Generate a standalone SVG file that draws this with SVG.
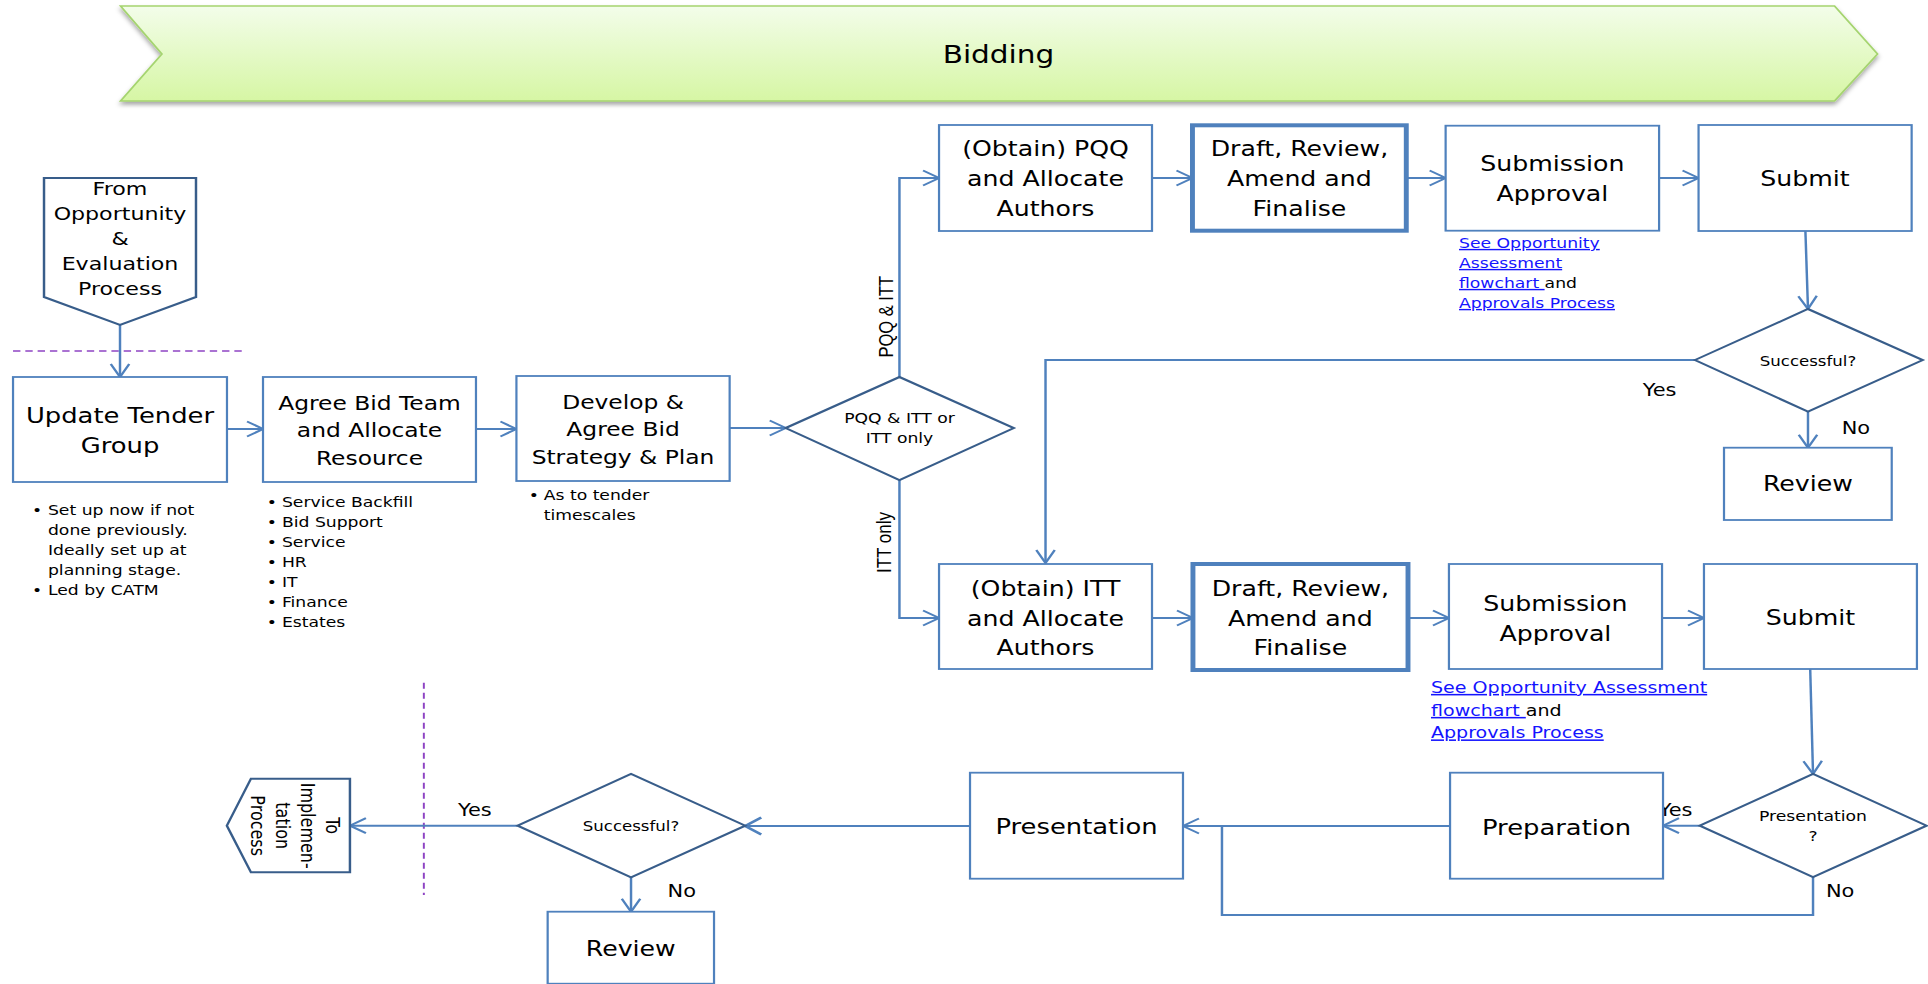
<svg xmlns="http://www.w3.org/2000/svg" width="1928" height="984" viewBox="0 0 1928 984">
<defs>
<style>
.box{fill:#fff;stroke:#4f81bd;stroke-width:1.8}
.thick{fill:#fff;stroke:#4f81bd;stroke-width:4}
.dia{fill:#fff;stroke:#385d8a;stroke-width:2}
.conn{fill:none;stroke:#4f81bd;stroke-width:2}
.t{font-family:"DejaVu Sans",Verdana,sans-serif;fill:#000}
.r{font-family:"Liberation Sans",Arial,sans-serif;fill:#000}
.c{text-anchor:middle}
.link{fill:#1414ff;text-decoration:underline}
.dash{stroke:#8e44c4;stroke-width:1.6;stroke-dasharray:6 4;fill:none}
</style>
<linearGradient id="gb" x1="0" y1="0" x2="0" y2="1">
<stop offset="0" stop-color="#f3fdea"/>
<stop offset="1" stop-color="#d6f6a4"/>
</linearGradient>
<filter id="sh" x="-5%" y="-20%" width="110%" height="150%">
<feDropShadow dx="0" dy="3" stdDeviation="2" flood-color="#000" flood-opacity="0.35"/>
</filter>
<marker id="ar" markerUnits="userSpaceOnUse" markerWidth="20" markerHeight="20" refX="0" refY="0" orient="auto" overflow="visible">
<path d="M-13,-7.5 L0,0 L-13,7.5" fill="none" stroke="#4f81bd" stroke-width="2"/>
</marker>
<marker id="ar3" markerUnits="userSpaceOnUse" markerWidth="20" markerHeight="20" refX="0" refY="0" orient="auto" overflow="visible">
<path d="M-13,-8.5 L0,0 L-13,8.5" fill="none" stroke="#4f81bd" stroke-width="2.6"/>
</marker>
</defs>
<g transform="scale(1.22959 1)">

<g id="banner">
<polygon points="98,6 1492,6 1527,54 1492,101 98,101 131.7,54" fill="url(#gb)" stroke="#a5d46f" stroke-width="1.5" filter="url(#sh)"/>
<text class="t c" x="812" y="63" font-size="24">Bidding</text>
</g>

<g id="separators">
<line class="dash" x1="10.6" y1="351" x2="199" y2="351"/>
<line class="dash" x1="344.7" y1="682.7" x2="344.7" y2="895"/>
</g>

<g id="connectors">
<path class="conn" d="M97.6,325 V377" marker-end="url(#ar)"/>
<path class="conn" d="M184.6,429 H213.9" marker-end="url(#ar)"/>
<path class="conn" d="M387.1,429 H420" marker-end="url(#ar)"/>
<path class="conn" d="M593.4,428 H639" marker-end="url(#ar)"/>
<path class="conn" d="M731.5,377 V178 H763.7" marker-end="url(#ar)"/>
<path class="conn" d="M731.5,480 V618 H763.7" marker-end="url(#ar)"/>
<path class="conn" d="M936.9,178 H969.8" marker-end="url(#ar)"/>
<path class="conn" d="M1143.7,178 H1175.7" marker-end="url(#ar)"/>
<path class="conn" d="M1349.3,178 H1381.4" marker-end="url(#ar)"/>
<path class="conn" d="M1468.3,231 L1470.4,309" marker-end="url(#ar)"/>
<path class="conn" d="M1378.5,360 H850.3 V563" marker-end="url(#ar)"/>
<path class="conn" d="M1470.4,411.7 V447.7" marker-end="url(#ar)"/>
<path class="conn" d="M936.9,618 H970.2" marker-end="url(#ar)"/>
<path class="conn" d="M1145.1,618 H1178.4" marker-end="url(#ar)"/>
<path class="conn" d="M1351.7,618 H1385.8" marker-end="url(#ar)"/>
<path class="conn" d="M1472.2,669 L1474.5,774" marker-end="url(#ar)"/>
<path class="conn" d="M1382.4,825.7 H1352.5" marker-end="url(#ar)"/>
<path class="conn" d="M1179.3,826 H962.1" marker-end="url(#ar)"/>
<path class="conn" d="M1474.5,877 V915 H993.8 V826"/>
<path class="conn" d="M788.9,826 H606.1" stroke-width="3" marker-end="url(#ar3)"/>
<path class="conn" d="M513.2,877.3 V911.7" marker-end="url(#ar)"/>
<path class="conn" d="M421,825.7 H284.6" marker-end="url(#ar)"/>
<text class="r" transform="translate(726 316.7) rotate(-90)" text-anchor="middle" font-size="16.5">PQQ &amp; ITT</text>
<text class="r" transform="translate(725 542.5) rotate(-90)" text-anchor="middle" font-size="17">ITT only</text>
<text class="t" x="1336" y="396" font-size="17">Yes</text>
<text class="t" x="1497.8" y="434" font-size="17">No</text>
<text class="t" x="1349" y="815.7" font-size="17">Yes</text>
<text class="t" x="1485" y="896.7" font-size="17">No</text>
<text class="t" x="372.5" y="815.7" font-size="17">Yes</text>
<text class="t" x="542.9" y="896.7" font-size="17">No</text>
</g>

<g id="from-opportunity">
<polygon class="dia" points="35.8,178 159.4,178 159.4,297 97.6,325 35.8,297"/>
<text class="t c" font-size="18"><tspan x="97.6" y="195">From</tspan><tspan x="97.6" y="220">Opportunity</tspan><tspan x="97.6" y="245">&amp;</tspan><tspan x="97.6" y="270">Evaluation</tspan><tspan x="97.6" y="295">Process</tspan></text>
</g>

<g id="update-tender-group">
<rect class="box" x="10.6" y="377" width="174" height="105"/>
<text class="t c" font-size="21"><tspan x="97.6" y="423">Update Tender</tspan><tspan x="97.6" y="453">Group</tspan></text>
<text class="t" font-size="14"><tspan x="26" y="515">•</tspan><tspan x="39" y="515">Set up now if not</tspan><tspan x="39" y="535">done previously.</tspan><tspan x="39" y="555">Ideally set up at</tspan><tspan x="39" y="575">planning stage.</tspan><tspan x="26" y="595">•</tspan><tspan x="39" y="595">Led by CATM</tspan></text>
</g>

<g id="agree-bid-team">
<rect class="box" x="213.9" y="377" width="173.2" height="105"/>
<text class="t c" font-size="19"><tspan x="300.5" y="410">Agree Bid Team</tspan><tspan x="300.5" y="437.5">and Allocate</tspan><tspan x="300.5" y="465">Resource</tspan></text>
<text class="t" font-size="14"><tspan x="217" y="507">•</tspan><tspan x="229.3" y="507">Service Backfill</tspan><tspan x="217" y="527">•</tspan><tspan x="229.3" y="527">Bid Support</tspan><tspan x="217" y="547">•</tspan><tspan x="229.3" y="547">Service</tspan><tspan x="217" y="567">•</tspan><tspan x="229.3" y="567">HR</tspan><tspan x="217" y="587">•</tspan><tspan x="229.3" y="587">IT</tspan><tspan x="217" y="607">•</tspan><tspan x="229.3" y="607">Finance</tspan><tspan x="217" y="627">•</tspan><tspan x="229.3" y="627">Estates</tspan></text>
</g>

<g id="develop-strategy">
<rect class="box" x="420" y="376" width="173.4" height="105"/>
<text class="t c" font-size="19"><tspan x="506.7" y="409">Develop &amp;</tspan><tspan x="506.7" y="436.5">Agree Bid</tspan><tspan x="506.7" y="464">Strategy &amp; Plan</tspan></text>
<text class="t" font-size="14"><tspan x="430" y="500">•</tspan><tspan x="442.2" y="500">As to tender</tspan><tspan x="442.2" y="520">timescales</tspan></text>
</g>

<g id="decision-pqq-itt">
<polygon class="dia" points="639,428 731.5,377 824.5,428 731.5,480"/>
<text class="t c" font-size="14"><tspan x="731.5" y="423">PQQ &amp; ITT or</tspan><tspan x="731.5" y="443">ITT only</tspan></text>
</g>

<g id="obtain-pqq">
<rect class="box" x="763.7" y="125" width="173.2" height="106"/>
<text class="t c" font-size="20.5"><tspan x="850.3" y="156.5">(Obtain) PQQ</tspan><tspan x="850.3" y="186.5">and Allocate</tspan><tspan x="850.3" y="216.5">Authors</tspan></text>
</g>

<g id="draft-pqq">
<rect class="thick" x="969.8" y="125.3" width="173.9" height="105.4"/>
<text class="t c" font-size="20.5"><tspan x="1056.8" y="156.5">Draft, Review,</tspan><tspan x="1056.8" y="186.5">Amend and</tspan><tspan x="1056.8" y="216.5">Finalise</tspan></text>
</g>

<g id="submission-approval-pqq">
<rect class="box" x="1175.7" y="125.7" width="173.6" height="105"/>
<text class="t c" font-size="20.5"><tspan x="1262.5" y="171.5">Submission</tspan><tspan x="1262.5" y="201.5">Approval</tspan></text>
<text class="t" font-size="14"><tspan class="link" x="1186.6" y="248">See Opportunity</tspan><tspan class="link" x="1186.6" y="268">Assessment</tspan><tspan class="link" x="1186.6" y="288">flowchart </tspan><tspan>and</tspan><tspan class="link" x="1186.6" y="308">Approvals Process</tspan></text>
</g>

<g id="submit-pqq">
<rect class="box" x="1381.4" y="125" width="173.3" height="106"/>
<text class="t c" x="1468" y="186" font-size="20.5">Submit</text>
</g>

<g id="decision-successful-pqq">
<polygon class="dia" points="1378.5,360 1470.4,309 1563.7,360 1470.4,411.7"/>
<text class="t c" x="1470.4" y="366" font-size="13.5">Successful?</text>
</g>

<g id="review-pqq">
<rect class="box" x="1402.1" y="447.7" width="136.4" height="72.3"/>
<text class="t c" x="1470.3" y="491" font-size="20.5">Review</text>
</g>

<g id="obtain-itt">
<rect class="box" x="763.7" y="564" width="173.2" height="105"/>
<text class="t c" font-size="20.5"><tspan x="850.3" y="596.5">(Obtain) ITT</tspan><tspan x="850.3" y="626">and Allocate</tspan><tspan x="850.3" y="655.5">Authors</tspan></text>
</g>

<g id="draft-itt">
<rect class="thick" x="970.2" y="564" width="174.9" height="106"/>
<text class="t c" font-size="20.5"><tspan x="1057.6" y="596.5">Draft, Review,</tspan><tspan x="1057.6" y="626">Amend and</tspan><tspan x="1057.6" y="655.5">Finalise</tspan></text>
</g>

<g id="submission-approval-itt">
<rect class="box" x="1178.4" y="564" width="173.3" height="105"/>
<text class="t c" font-size="20.5"><tspan x="1265" y="611">Submission</tspan><tspan x="1265" y="641">Approval</tspan></text>
<text class="t" font-size="15.5"><tspan class="link" x="1163.8" y="693">See Opportunity Assessment</tspan><tspan class="link" x="1163.8" y="716">flowchart </tspan><tspan>and</tspan><tspan class="link" x="1163.8" y="738.5">Approvals Process</tspan></text>
</g>

<g id="submit-itt">
<rect class="box" x="1385.8" y="564" width="173.2" height="105"/>
<text class="t c" x="1472.4" y="625" font-size="20.5">Submit</text>
</g>

<g id="decision-presentation">
<polygon class="dia" points="1382.4,825.7 1474.5,774 1566.8,825.7 1474.5,877"/>
<text class="t c" font-size="14"><tspan x="1474.5" y="821.5">Presentation</tspan><tspan x="1474.5" y="841.5">?</tspan></text>
</g>

<g id="preparation">
<rect class="box" x="1179.3" y="772.7" width="173.2" height="106"/>
<text class="t c" x="1265.9" y="835" font-size="21">Preparation</text>
</g>

<g id="presentation">
<rect class="box" x="788.9" y="772.7" width="173.2" height="106"/>
<text class="t c" x="875.5" y="834" font-size="21">Presentation</text>
</g>

<g id="decision-successful-itt">
<polygon class="dia" points="421,825.7 513.2,774 606.1,825.7 513.2,877.3"/>
<text class="t c" x="513.2" y="831.5" font-size="13.5">Successful?</text>
</g>

<g id="review-itt">
<rect class="box" x="445.4" y="911.7" width="135.3" height="72"/>
<text class="t c" x="513" y="956" font-size="20.5">Review</text>
</g>

<g id="to-implementation">
<polygon class="dia" points="284.6,778.7 284.6,872.3 204.1,872.3 184.5,825.7 204.1,778.7"/>
<text class="t c" transform="translate(265.5 825.7) rotate(90)" font-size="16"><tspan x="0" y="0">To</tspan><tspan x="0" y="20.5">Implemen-</tspan><tspan x="0" y="41">tation</tspan><tspan x="0" y="61.5">Process</tspan></text>
</g>

</g>
</svg>
